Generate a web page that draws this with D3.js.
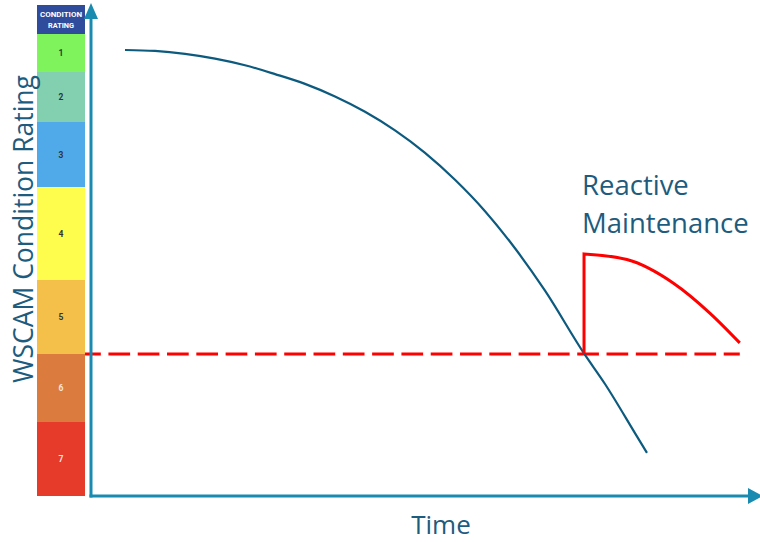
<!DOCTYPE html>
<html>
<head>
<meta charset="utf-8">
<script src="https://cdn.jsdelivr.net/npm/d3@7"></script>
<style>
  html, body { margin: 0; padding: 0; background: #fff; }
  svg { display: block; }
</style>
</head>
<body>
<svg id="chart" width="760" height="542"></svg>
<script>
// Condition rating bands (1 = best, 7 = worst)
const ratings = [1, 2, 3, 4, 5, 6, 7];
const bandColors = ["#7ef35b", "#82d0b0", "#50aaea", "#fefc4c", "#f4c04a", "#dc7b3e", "#e63a2a"];
const bandTextColors = ["#333", "#333", "#333", "#333", "#333", "#f6e6da", "#f6e6da"];
const headerLines = ["CONDITION", "RATING"];

// Band edges in rating units and where they sit on the page (bands are unequal height)
const bandEdges = [0.5, 1.5, 2.5, 3.5, 4.5, 5.5, 6.5, 7.5];
const bandEdgePx = [34, 72, 122, 187, 280, 354, 422, 496];

// Deterioration curve: time (0–100) vs condition rating
const decayTime   = [5.15, 9.70, 14.24, 18.79, 23.33, 27.88, 32.42, 36.97, 41.52, 46.06, 50.61, 55.15, 59.70, 64.24, 68.79, 74.70, 77.88, 82.42, 84.24];
const decayRating = [0.921, 0.945, 1.021, 1.147, 1.321, 1.542, 1.738, 1.990, 2.296, 2.629, 2.975, 3.389, 3.760, 4.159, 4.645, 5.493, 5.941, 6.650, 6.918];

// Intervention threshold and reactive maintenance recovery curve
const threshold = 5.5;
const thresholdSpan = [-1.8, 98.3];
const repairTime   = [74.7, 81.2, 88.2, 93.8, 98.3];
const repairRating = [4.22, 4.28, 4.54, 4.95, 5.35];

const svg = d3.select("#chart");

const x = d3.scaleLinear().domain([0, 100]).range([91, 751]);
const y = d3.scaleLinear().domain(bandEdges).range(bandEdgePx);

const axisColor = "#1a8bb0";
const textColor = "#1d5c7e";
const font = "'Open Sans', sans-serif";

// Threshold (drawn first so the rating bar covers its left end)
svg.append("line")
  .attr("x1", x(thresholdSpan[0])).attr("x2", x(thresholdSpan[1]))
  .attr("y1", y(threshold)).attr("y2", y(threshold))
  .attr("stroke", "#ff0000").attr("stroke-width", 3)
  .attr("stroke-dasharray", "21.7 7.6");

// Rating bar
const barX = 37, barW = 48;
svg.append("rect")
  .attr("x", barX).attr("y", 5).attr("width", barW).attr("height", y(0.5) - 5)
  .attr("fill", "#2f4b9c");
svg.selectAll("text.hdr").data(headerLines).join("text")
  .attr("class", "hdr")
  .attr("x", barX + barW / 2).attr("y", (d, i) => 17 + i * 11)
  .attr("text-anchor", "middle")
  .attr("font-family", "Roboto, sans-serif").attr("font-weight", "bold")
  .attr("font-size", 7.5).attr("fill", "#fff")
  .attr("textLength", (d, i) => i === 0 ? 42 : 26).attr("lengthAdjust", "spacingAndGlyphs")
  .text(d => d);

svg.selectAll("rect.band").data(ratings).join("rect")
  .attr("class", "band")
  .attr("x", barX).attr("width", barW)
  .attr("y", d => y(d - 0.5))
  .attr("height", d => y(d + 0.5) - y(d - 0.5))
  .attr("fill", (d, i) => bandColors[i]);
svg.selectAll("text.band").data(ratings).join("text")
  .attr("class", "band")
  .attr("x", barX + barW / 2)
  .attr("y", d => (y(d - 0.5) + y(d + 0.5)) / 2 + 3)
  .attr("text-anchor", "middle")
  .attr("font-family", "Roboto, sans-serif").attr("font-weight", "bold")
  .attr("font-size", 8.5)
  .attr("fill", (d, i) => bandTextColors[i])
  .text(d => d);

// Axes with arrowheads
const x0 = 91, yBase = 496;
svg.append("line")
  .attr("x1", x0).attr("x2", x0).attr("y1", yBase + 1.5).attr("y2", 16)
  .attr("stroke", axisColor).attr("stroke-width", 3);
svg.append("path")
  .attr("d", `M${x0},3 L${x0 + 7},19 L${x0 - 7},19 Z`)
  .attr("fill", axisColor);
svg.append("line")
  .attr("x1", x0 - 1.5).attr("x2", 750).attr("y1", yBase).attr("y2", yBase)
  .attr("stroke", axisColor).attr("stroke-width", 3);
svg.append("path")
  .attr("d", `M763,${yBase} L748,${yBase - 8} L748,${yBase + 8} Z`)
  .attr("fill", axisColor);

// Axis titles
svg.append("text")
  .attr("transform", "translate(33,229) rotate(-90)")
  .attr("text-anchor", "middle")
  .attr("font-family", font).attr("font-size", 26.5)
  .attr("fill", textColor)
  .text("WSCAM Condition Rating");
svg.append("text")
  .attr("x", 441).attr("y", 534)
  .attr("text-anchor", "middle")
  .attr("font-family", font).attr("font-size", 26)
  .attr("fill", textColor)
  .text("Time");

// Deterioration curve
const decay = decayTime.map((t, i) => [t, decayRating[i]]);
svg.append("path")
  .datum(decay)
  .attr("d", d3.line().x(d => x(d[0])).y(d => y(d[1])).curve(d3.curveMonotoneX))
  .attr("fill", "none").attr("stroke", "#0d5a7f").attr("stroke-width", 2.2);

// Reactive maintenance: jump back up at the threshold, then deteriorate again
const repair = repairTime.map((t, i) => [t, repairRating[i]]);
const curveStr = d3.line().x(d => x(d[0])).y(d => y(d[1])).curve(d3.curveMonotoneX)(repair);
svg.append("path")
  .attr("d", `M${x(repairTime[0])},${y(threshold)} L` + curveStr.slice(1))
  .attr("fill", "none").attr("stroke", "#ff0000").attr("stroke-width", 3)
  .attr("stroke-linejoin", "miter");

svg.selectAll("text.note").data(["Reactive", "Maintenance"]).join("text")
  .attr("class", "note")
  .attr("x", x(repairTime[0]) - 2).attr("y", (d, i) => 195 + i * 38)
  .attr("font-family", font).attr("font-size", 27.5)
  .attr("fill", textColor)
  .text(d => d);
</script>
</body>
</html>
